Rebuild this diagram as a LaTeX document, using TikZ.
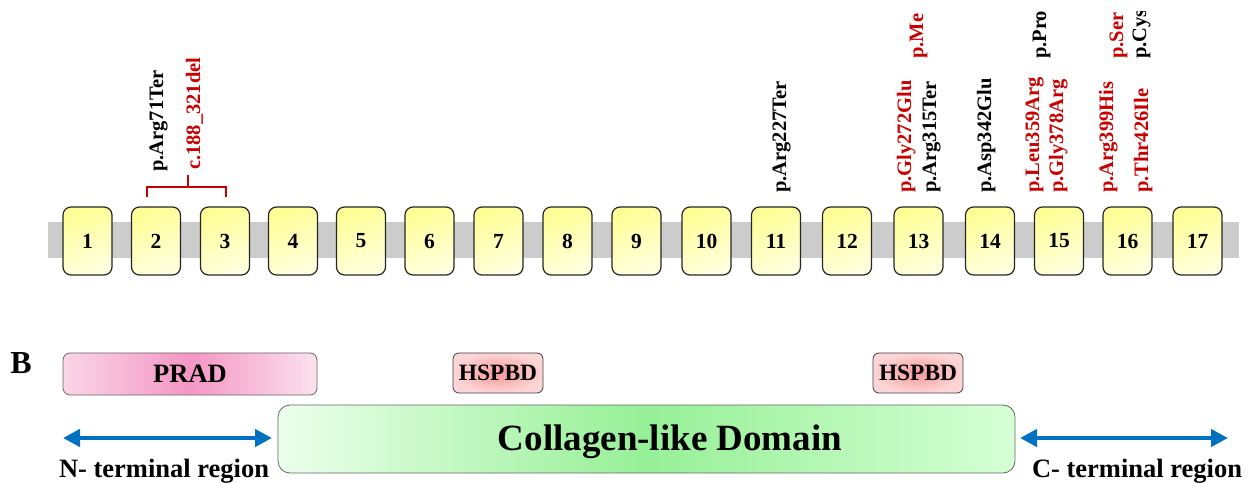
\documentclass[tikz,border=0pt]{standalone}
\usepackage{fontspec}
\setmainfont{Liberation Serif}
\usetikzlibrary{arrows.meta}

\definecolor{mutred}{RGB}{200,0,0}
\definecolor{bargray}{RGB}{204,204,204}
\definecolor{exonlight}{RGB}{255,255,222}
\definecolor{exondark}{RGB}{255,255,150}
\definecolor{arrowblue}{RGB}{0,112,192}
\definecolor{pinkedge}{RGB}{250,214,230}
\definecolor{pinkmid}{RGB}{244,150,196}
\definecolor{redpale}{RGB}{252,214,214}
\definecolor{redmid}{RGB}{246,150,150}
\definecolor{greenleft}{RGB}{236,255,236}
\definecolor{greenmid}{RGB}{150,240,150}
\definecolor{greenright}{RGB}{214,255,214}

\tikzset{
  exon/.style={draw=black!85, line width=1.2pt, rounded corners=8pt,
    minimum width=49pt, minimum height=68pt, inner sep=0pt,
    shading=axis, top color=exondark, bottom color=exonlight, shading angle=20,
    font=\bfseries\fontsize{21.5}{23}\selectfont},
  mut/.style={rotate=90, anchor=base west, inner sep=0pt,
    font=\bfseries\fontsize{20.5}{22}\selectfont},
  domainbox/.style={draw=black!60, line width=0.8pt, inner sep=0pt},
  terminal/.style={arrowblue, line width=4.5pt,
    {Triangle[length=17pt,width=17pt]}-{Triangle[length=17pt,width=17pt]}},
  regionlabel/.style={anchor=base, inner sep=0pt,
    font=\bfseries\fontsize{26.5}{28}\selectfont},
}

\begin{document}
\begin{tikzpicture}[x=1pt,y=1pt]
\useasboundingbox (0,0) rectangle (1252,482);

% ---------- gene: exon track ----------
\fill[bargray] (48,224) rectangle (1239,260);

\foreach \n/\cx in {1/87.5,2/156,3/225,4/293,5/361,6/429.5,7/498.5,8/567.5,
                    9/636.5,10/706.5,11/776,12/847,13/918.5,14/990,15/1059,
                    16/1127.5,17/1197.5}
  \node[exon] (e\n) at (\cx,241) {\n};

% deletion bracket over exons 2 and 3
\draw[mutred, line width=2.6pt] (147,285) -- (147,295) -- (226,295) -- (226,285);
\draw[mutred, line width=2.6pt] (188,295) -- (188,307);

% ---------- variant labels ----------
\begin{scope}
  \clip (0,0) rectangle (1252,470);
  \node[mut] (m1)  at (163,310)              {p.Arg71Ter};
  \node[mut, mutred] (m2)  at (200,312)      {c.188\_321del};
  \node[mut] (m3)  at (786,289)              {p.Arg227Ter};
  \node[mut, mutred] (m4)  at (911,289)      {p.Gly272Glu};
  \node[mut] (m5)  at (936,289)              {p.Arg315Ter};
  \node[mut, mutred] (m6)  at (923,423)      {p.Me};
  \node[mut] (m7)  at (991,289)              {p.Asp342Glu};
  \node[mut, mutred] (m8)  at (1039,289)     {p.Leu359Arg};
  \node[mut, mutred] (m9)  at (1063,289)     {p.Gly378Arg};
  \node[mut] (m10) at (1046,423)             {p.Pro};
  \node[mut, mutred] (m11) at (1113,289)     {p.Arg399His};
  \node[mut, mutred] (m12) at (1148,289)     {p.Thr426Ile};
  \node[mut, mutred] (m13) at (1123,423)     {p.Ser};
  \node[mut] (m14) at (1146,423)             {p.Cys};
\end{scope}

% ---------- protein domains ----------
\node[font=\bfseries\fontsize{32}{34}\selectfont, inner sep=0pt] (panelB) at (21,119) {B};

\node[domainbox, rounded corners=7pt, minimum width=254pt, minimum height=42pt,
      shading=axis, left color=pinkedge, right color=pinkedge!70!white, middle color=pinkmid,
      font=\bfseries\fontsize{26.5}{28}\selectfont] (prad) at (190,108) {PRAD};

\node[domainbox, draw=black!75, rounded corners=6pt, minimum width=90pt, minimum height=40pt,
      shading=radial, inner color=redmid, outer color=redpale,
      font=\bfseries\fontsize{23.4}{25}\selectfont] (hspbd1) at (498,109) {HSPBD};
\node[domainbox, draw=black!75, rounded corners=6pt, minimum width=90pt, minimum height=40pt,
      shading=radial, inner color=redmid, outer color=redpale,
      font=\bfseries\fontsize{23.4}{25}\selectfont] (hspbd2) at (918,109) {HSPBD};

\node[domainbox, rounded corners=12pt, minimum width=737pt, minimum height=68pt,
      shading=axis, left color=greenleft, right color=greenright, middle color=greenmid]
      (collagen) at (646.5,43) {};
\node[font=\bfseries\fontsize{37}{39}\selectfont, inner sep=0pt, anchor=base] (collagentext)
      at (670,32) {Collagen-like Domain};

% terminal regions
\coordinate (nl) at (63,44);
\coordinate (nr) at (272,44);
\coordinate (cl) at (1020,44);
\coordinate (cr) at (1228,44);
\draw[terminal] (nl) -- (nr);
\draw[terminal] (cl) -- (cr);
\node[regionlabel] (nlabel) at (164,5) {N- terminal region};
\node[regionlabel] (clabel) at (1137,5) {C- terminal region};
\end{tikzpicture}
\end{document}
